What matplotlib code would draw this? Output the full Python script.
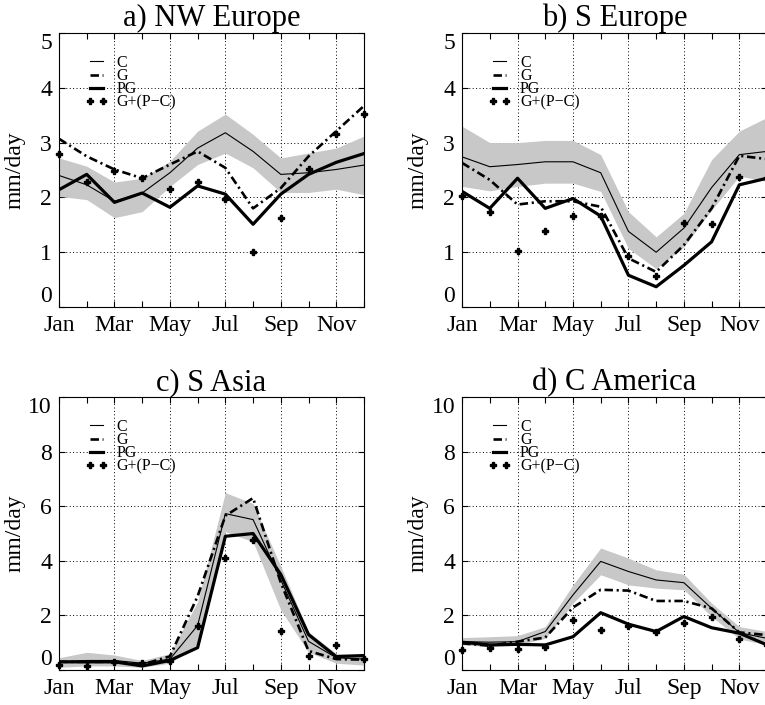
import numpy as np
import matplotlib
matplotlib.use("Agg")
import matplotlib.pyplot as plt

plt.rcParams["font.family"] = ["Liberation Serif", "DejaVu Serif"]

months = np.arange(1, 13)
tick_months = [1, 3, 5, 7, 9, 11]
tick_labels = ["Jan", "Mar", "May", "Jul", "Sep", "Nov"]

# a) NW Europe
nw_c = [2.40, 2.23, 1.93, 2.08, 2.45, 2.90, 3.18, 2.84, 2.42, 2.45, 2.51, 2.59]
nw_lo = [2.02, 1.96, 1.63, 1.74, 2.20, 2.60, 2.81, 2.54, 2.09, 2.09, 2.15, 2.05]
nw_hi = [2.72, 2.57, 2.28, 2.35, 2.66, 3.21, 3.52, 3.15, 2.72, 2.81, 2.90, 3.12]
nw_g = [3.07, 2.75, 2.51, 2.35, 2.60, 2.84, 2.54, 1.80, 2.17, 2.75, 3.21, 3.67]
nw_pg = [2.14, 2.42, 1.91, 2.08, 1.82, 2.21, 2.06, 1.51, 2.06, 2.42, 2.64, 2.80]
nw_gpc = [2.80, 2.28, 2.48, 2.35, 2.16, 2.28, 1.97, 1.00, 1.62, 2.52, 3.16, 3.53]

# b) S Europe
se_c = [2.74, 2.56, 2.60, 2.65, 2.65, 2.45, 1.38, 1.00, 1.44, 2.18, 2.78, 2.84]
se_lo = [2.20, 2.12, 2.20, 2.26, 2.26, 2.11, 1.07, 0.70, 1.10, 1.77, 2.39, 2.29]
se_hi = [3.30, 3.00, 3.00, 3.04, 3.04, 2.78, 1.74, 1.28, 1.71, 2.69, 3.21, 3.46]
se_g = [2.63, 2.32, 1.87, 1.93, 1.93, 1.83, 0.89, 0.64, 1.13, 1.80, 2.76, 2.70]
se_pg = [2.11, 1.80, 2.35, 1.80, 1.98, 1.66, 0.58, 0.37, 0.76, 1.19, 2.23, 2.35]
se_gpc = [2.03, 1.74, 1.03, 1.39, 1.66, 1.66, 0.93, 0.56, 1.53, 1.52, 2.37, 2.35]

# c) S Asia
sa_c = [0.30, 0.35, 0.35, 0.25, 0.40, 1.63, 5.73, 5.51, 3.30, 1.05, 0.45, 0.40]
sa_lo = [0.10, 0.15, 0.15, 0.10, 0.25, 0.95, 5.07, 4.70, 2.20, 0.65, 0.25, 0.18]
sa_hi = [0.45, 0.65, 0.55, 0.35, 0.60, 2.50, 6.50, 6.10, 3.80, 1.40, 0.60, 0.60]
sa_g = [0.30, 0.30, 0.30, 0.20, 0.50, 2.70, 5.65, 6.30, 3.20, 0.70, 0.40, 0.38]
sa_pg = [0.30, 0.30, 0.30, 0.15, 0.35, 0.82, 4.90, 5.00, 3.50, 1.30, 0.49, 0.53]
sa_gpc = [0.18, 0.16, 0.30, 0.24, 0.33, 1.63, 4.10, 4.78, 1.44, 0.50, 0.92, 0.40]

# d) C America
ca_c = [1.04, 1.02, 1.04, 1.41, 2.75, 3.98, 3.61, 3.30, 3.20, 2.26, 1.37, 1.16]
ca_lo = [0.92, 0.86, 0.92, 1.16, 2.45, 3.49, 3.12, 3.00, 2.94, 1.96, 1.14, 0.92]
ca_hi = [1.19, 1.22, 1.26, 1.59, 3.12, 4.47, 4.10, 3.67, 3.51, 2.45, 1.59, 1.41]
ca_g = [0.98, 0.89, 1.04, 1.19, 2.29, 2.94, 2.91, 2.53, 2.53, 2.26, 1.38, 1.28]
ca_pg = [1.02, 0.92, 0.94, 0.92, 1.22, 2.10, 1.68, 1.41, 1.96, 1.55, 1.35, 0.92]
ca_gpc = [0.73, 0.82, 0.77, 0.83, 1.84, 1.47, 1.63, 1.41, 1.71, 1.96, 1.13, 0.90]

titles = ["a) NW Europe", "b) S Europe", "c) S Asia", "d) C America"]
panels = [
    (nw_c, nw_lo, nw_hi, nw_g, nw_pg, nw_gpc, 5, 1),
    (se_c, se_lo, se_hi, se_g, se_pg, se_gpc, 5, 1),
    (sa_c, sa_lo, sa_hi, sa_g, sa_pg, sa_gpc, 10, 2),
    (ca_c, ca_lo, ca_hi, ca_g, ca_pg, ca_gpc, 10, 2),
]
# axes rectangles in figure fraction (left, bottom, width, height)
rects = [
    (0.0771, 0.5645, 0.3987, 0.3887),
    (0.6040, 0.5645, 0.3987, 0.3887),
    (0.0771, 0.0496, 0.3987, 0.3872),
    (0.6040, 0.0496, 0.3987, 0.3872),
]

fig = plt.figure(figsize=(7.65, 7.05), dpi=100)

for title, (c, lo, hi, g, pg, gpc, ymax, ystep), rect in zip(titles, panels, rects):
    ax = fig.add_axes(rect)
    ax.fill_between(months, lo, hi, color="#c8c8c8", lw=0, zorder=1)
    ax.plot(months, c, color="black", lw=0.8, label="C", zorder=3)
    ax.plot(months, g, color="black", lw=1.9, dashes=(3.2, 1.4, 0.8, 1.4),
            label="G", zorder=3)
    ax.plot(months, pg, color="black", lw=2.3, label="PG", zorder=3)
    ax.plot(months, gpc, ls="none", marker="P", ms=5, color="black",
            mec="black", label="G+(P\u2212C)", zorder=4, clip_on=False)

    ax.set_xlim(1, 12)
    ax.set_ylim(0, ymax)
    ax.set_xticks(tick_months)
    ax.set_xticklabels(tick_labels)
    ax.set_xticks([2, 4, 6, 8, 10, 12], minor=True)
    ax.set_yticks(np.arange(0, ymax + ystep, ystep))
    ax.tick_params(which="both", direction="in", top=True, right=True,
                   labelsize=17, length=4, width=0.8)
    ax.tick_params(axis="x", pad=6)
    ax.tick_params(axis="y", pad=5)
    # end labels sit inside the axis range, as in the original
    ylabs = ax.get_yticklabels()
    ylabs[0].set_va("bottom")
    ylabs[-1].set_va("top")

    ax.grid(True, which="major", color="black", ls=(0, (1, 2.5)), lw=0.7)
    ax.set_axisbelow(True)
    for sp in ax.spines.values():
        sp.set_linewidth(0.8)

    ax.set_title(title, fontsize=22, pad=2)
    ax.set_ylabel("mm/day", fontsize=17)
    ax.yaxis.set_label_coords(-0.11, 0.5)

    ax.legend(loc="upper left", bbox_to_anchor=(0.085, 0.92),
              frameon=False, fontsize=11.5, numpoints=2,
              handlelength=1.45, handletextpad=0.55,
              labelspacing=-0.17, borderpad=0, borderaxespad=0)

fig.savefig("out.png", dpi=100)
